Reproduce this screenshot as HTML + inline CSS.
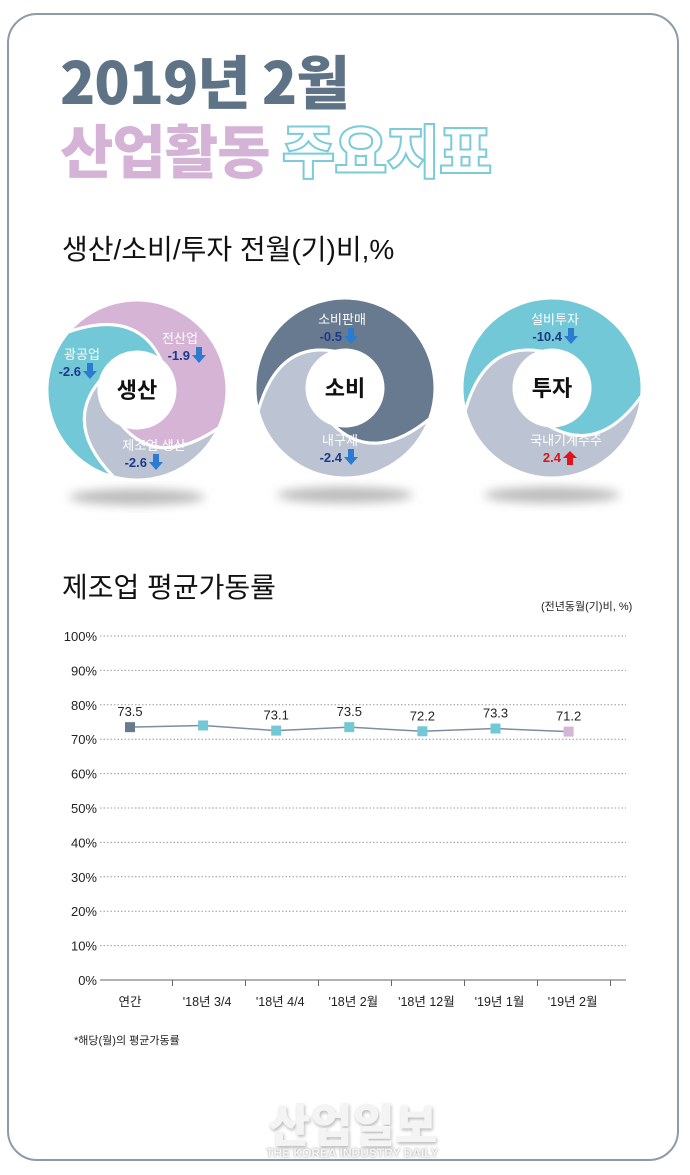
<!DOCTYPE html>
<html><head><meta charset="utf-8">
<style>
body{margin:0;width:690px;height:1175px;background:#fff;position:relative;overflow:hidden;font-family:"Liberation Sans","Noto Sans CJK KR",sans-serif;}
.frame{position:absolute;left:7px;top:13px;width:672px;height:1148px;border:2px solid #8e9aa8;border-radius:30px;box-sizing:border-box;}
.t{position:absolute;white-space:nowrap;}
</style></head><body>
<div class="frame"></div>
<div class="t" style="left:60px;top:44px;font-size:58px;font-weight:900;color:#5f7387;letter-spacing:-1px;font-family:'Noto Sans CJK KR',sans-serif;line-height:70px;">2019년 2월</div>
<div class="t" style="left:60px;top:113px;font-size:58px;font-weight:900;letter-spacing:-1px;font-family:'Noto Sans CJK KR',sans-serif;line-height:70px;"><span style="color:#d5b3d6">산업활동</span> <span style="color:#fff;-webkit-text-stroke:2px #7ccbd8">주요지표</span></div>
<div class="t" style="left:62px;top:230px;font-size:28px;color:#111;line-height:40px;">생산/소비/투자 전월(기)비,%</div>

<svg id="donuts" width="690" height="260" style="position:absolute;left:0;top:280px"></svg>

<div class="t" style="left:62px;top:568px;font-size:28px;color:#111;line-height:40px;">제조업 평균가동률</div>
<div class="t" style="left:541px;top:598px;font-size:11px;color:#222;">(전년동월(기)비, %)</div>
<svg id="chart" width="690" height="440" style="position:absolute;left:0;top:620px"></svg>
<div class="t" style="left:74px;top:1032px;font-size:11px;color:#222;">*해당(월)의 평균가동률</div>
<div class="t" style="left:268px;top:1095px;font-size:46px;font-weight:900;color:#f4f4f4;text-shadow:1px 2px 3px #bbb;font-family:'Noto Sans CJK KR',sans-serif;line-height:56px;">산업일보</div>
<div class="t" style="left:266px;top:1146px;font-size:12px;font-weight:bold;color:#f4f4f4;text-shadow:0 0 2px #999;">THE KOREA INDUSTRY DAILY</div>

<script>
const NS='http://www.w3.org/2000/svg';
function mk(p,tag,at){const e=document.createElementNS(NS,tag);for(const k in at)e.setAttribute(k,at[k]);p.appendChild(e);return e;}
const D=document.getElementById('donuts');
const defs=mk(D,'defs',{});
const f=mk(defs,'filter',{id:'blur',x:'-50%',y:'-50%',width:'200%',height:'200%'});
mk(f,'feGaussianBlur',{stdDeviation:'5'});
function P(cx,cy,r,a){const t=a*Math.PI/180;return [cx+r*Math.cos(t),cy+r*Math.sin(t)];}
function seg(cx,cy,a0,a1,color,name){
  const R=90,r=38;
  const o0=P(cx,cy,R,a0),o1=P(cx,cy,R,a1),i0=P(cx,cy,r,a0+90),i1=P(cx,cy,r,a1+90);
  const c1=P(cx,cy,(R+r)/2+18,a1+50),c0=P(cx,cy,(R+r)/2+18,a0+50);
  const large=((a1-a0+360)%360)>180?1:0;
  const d=`M${o0} A${R} ${R} 0 ${large} 1 ${o1} Q${c1} ${i1} A${r} ${r} 0 ${large} 0 ${i0} Q${c0} ${o0} Z`;
  const p=mk(D,'path',{d:d,fill:color,stroke:'#fff','stroke-width':3});
  
  
}
function donut(cx,cy,segs,center,labels){
  const sh=mk(D,'ellipse',{cx:cx,cy:cy+107,rx:68,ry:8,fill:'#bbb',filter:'url(#blur)'});
  
  
  segs.forEach(s=>seg(cx,cy,s[0],s[1],s[2],s[3]));
  const c=mk(D,'circle',{cx:cx,cy:cy,r:35,fill:'#fff'});
  
  
  const t=mk(D,'text',{x:cx,y:cy+8,'text-anchor':'middle','font-size':22,'font-weight':'bold',fill:'#111'});
  t.textContent=center;
  
  
  labels.forEach(l=>{
    const a=mk(D,'text',{x:l[0],y:l[1],'text-anchor':'middle','font-size':13,fill:'#fff'});a.textContent=l[2];
    
    
    const up=l[5];
    const v=mk(D,'text',{x:l[3],y:l[1]+17,'text-anchor':'end','font-size':13,'font-weight':'bold',fill:up?'#d6141c':'#1d3a8a'});v.textContent=l[4];
    
    
    const x=l[3]+2,y=l[1]+4;
    const ar=mk(D,'polygon',{points:up?`${x+7},${y+2} ${x+14},${y+9} ${x+10},${y+9} ${x+10},${y+16} ${x+4},${y+16} ${x+4},${y+9} ${x},${y+9}`:`${x+4},${y} ${x+10},${y} ${x+10},${y+8} ${x+14},${y+8} ${x+7},${y+16} ${x},${y+8} ${x+4},${y+8}`,fill:up?'#e0141c':'#2b7bd0'});
    
    
  });
}
donut(137,110,[[220,385,'#d6b4d6','seg-total'],[105,220,'#72c8d6','seg-mining'],[25,105,'#bcc4d3','seg-manufacturing']],'생산',
 [[180,63,'전산업',190,'-1.9'],[82,79,'광공업',81,'-2.6'],[154,170,'제조업 생산',147,'-2.6']]);
donut(345,108,[[165,380,'#687a8f','seg-retail'],[20,165,'#bcc4d3','seg-durable']],'소비',
 [[342,44,'소비판매',342,'-0.5'],[340,165,'내구재',342,'-2.4']]);
donut(552,108,[[165,365,'#72c8d6','seg-equipment'],[5,165,'#bcc4d3','seg-machinery']],'투자',
 [[555,44,'설비투자',562,'-10.4'],[566,165,'국내기계수주',561,'2.4',true]]);

const categories=['연간',"'18년 3/4","'18년 4/4","'18년 2월","'18년 12월","'19년 1월","'19년 2월"];
const values=[73.5,74.0,72.5,73.5,72.3,73.1,72.2];
const valueLabels=['73.5','','73.1','73.5','72.2','73.3','71.2'];
const yTicks=[0,10,20,30,40,50,60,70,80,90,100];
const pointColors=['#677a8e','#72c8d6','#72c8d6','#72c8d6','#72c8d6','#72c8d6','#d6b4d6'];
const C=document.getElementById('chart');
const OY=620;
function yS(v){return 980-OY-v*3.44;}
function xS(i){return 130+i*73.1;}
yTicks.forEach(v=>{
  const y=yS(v);
  const l=mk(C,'line',{x1:100,x2:626,y1:y,y2:y,stroke:v===0?'#666':'#999','stroke-width':1,'stroke-dasharray':v===0?'':'1.5 2'});
  
  
  const t=mk(C,'text',{x:97,y:y+5,'text-anchor':'end','font-size':13,fill:'#222'});t.textContent=v+'%';
  
  
});
for(let k=1;k<=categories.length;k++){
  const x=99.5+k*73;
  const tk=mk(C,'line',{x1:x,x2:x,y1:yS(0),y2:yS(0)+6,stroke:'#666'});
  
  
}
categories.forEach((c,i)=>{
  const t=mk(C,'text',{x:xS(i)+(i?4:0),y:yS(0)+26,'text-anchor':'middle','font-size':12.5,fill:'#222'});t.textContent=c;
  
  
});
const pl=mk(C,'polyline',{points:values.map((v,i)=>xS(i)+','+yS(v)).join(' '),fill:'none',stroke:'#7d8ea0','stroke-width':1.5});


values.forEach((v,i)=>{
  const r=mk(C,'rect',{x:xS(i)-5,y:yS(v)-5,width:10,height:10,fill:pointColors[i]});
  
  
  if(valueLabels[i]){
    const t=mk(C,'text',{x:xS(i),y:yS(v)-11,'text-anchor':'middle','font-size':13,fill:'#222'});t.textContent=valueLabels[i];
    
    
  }
});
</script>
</body></html>
